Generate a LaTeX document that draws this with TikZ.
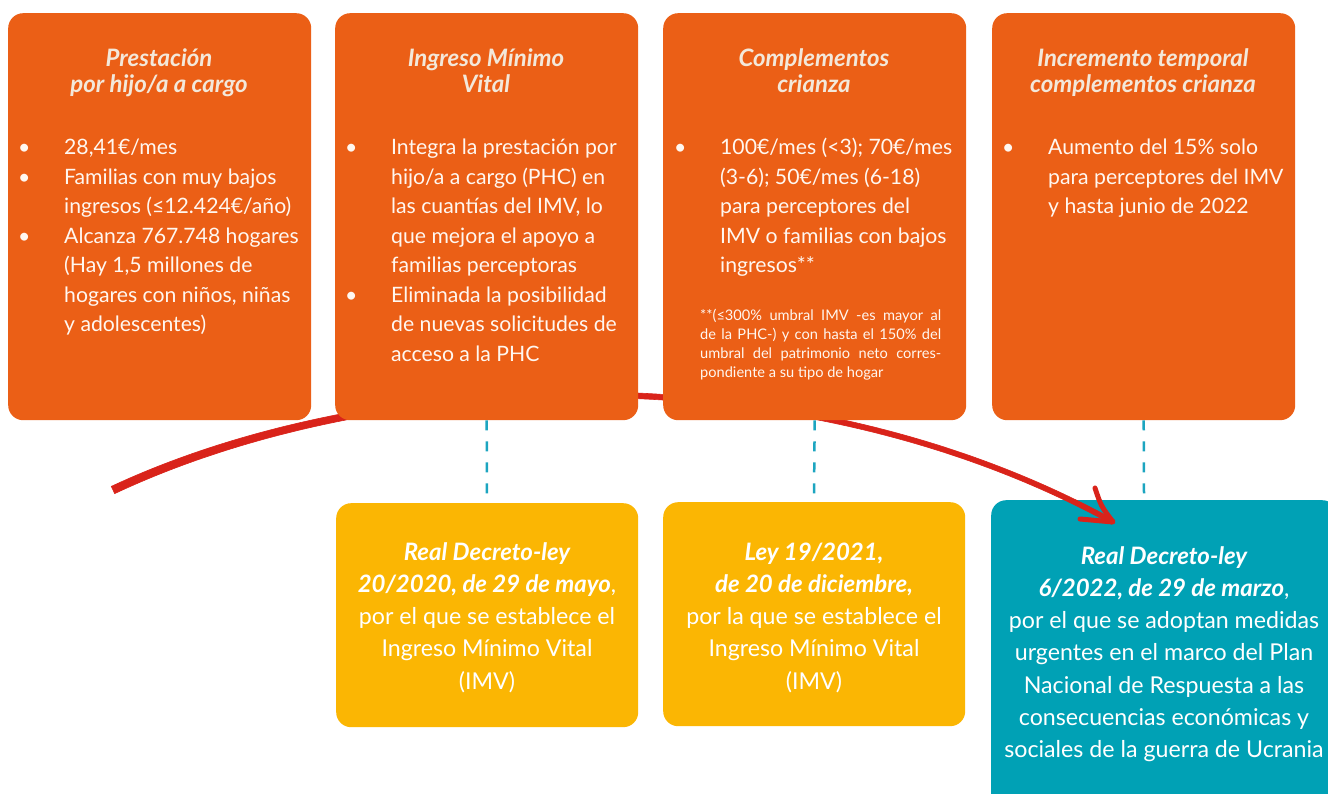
\documentclass[tikz,border=0pt]{standalone}
\usepackage{fontspec}
\setmainfont{Lato}
\definecolor{orgc}{HTML}{EB5F16}
\definecolor{yelc}{HTML}{FBB603}
\definecolor{tealc}{HTML}{00A1B5}
\definecolor{redc}{HTML}{D9231A}
\definecolor{dashc}{HTML}{1CA5C0}
\definecolor{ttlc}{HTML}{F3E8DA}
\definecolor{bodyc}{HTML}{FFF7F0}
\newlength{\bind}
\setlength{\bind}{46pt}
\newcommand{\nl}{\hfil\break}
\newcommand{\bitem}[1]{\par\noindent\hangindent=\bind\hangafter=1\makebox[\bind][l]{•}#1\par}
\newcommand{\jline}[1]{\makebox[241pt][s]{#1}}
\newcommand{\lowbf}{\fontsize{24}{32.3}\selectfont\bfseries\itshape}
\begin{document}
\begin{tikzpicture}[x=1pt,y=-1pt,
  obox/.style={fill=orgc, rounded corners=15pt, minimum width=303pt, minimum height=407pt, anchor=north west, inner sep=0pt},
  ybox/.style={fill=yelc, rounded corners=15pt, minimum width=302pt, minimum height=224pt, anchor=north west, inner sep=0pt},
  tbox/.style={fill=tealc, rounded corners=15pt, minimum width=346pt, minimum height=320pt, anchor=north west, inner sep=0pt},
  ttl/.style={anchor=base, inner sep=0pt, text=ttlc, font=\fontsize{24}{26}\selectfont\bfseries\itshape},
  bdy/.style={anchor=base west, inner sep=0pt, text=bodyc, font=\fontsize{21.2}{29.5}\selectfont},
  low/.style={anchor=base, inner sep=0pt, text=white, font=\fontsize{23.2}{32.3}\selectfont},
  redfill/.style={fill=redc, draw=redc, line width=0.6pt},
  redhead/.style={draw=redc, line width=5pt, line cap=round, line join=round},
  dashline/.style={draw=dashc, line width=2.5pt, dash pattern=on 10pt off 11pt}
]
\useasboundingbox (0,0) rectangle (1328,794);
\clip (0,0) rectangle (1328,794);

% teal box (below the red arrow)
\node[tbox] (tb) at (991,500) {};

% red arrow (tapered stroke)
\coordinate (rsa) at (111.3,486.4);
\coordinate (rsb) at (114.7,493.6);
\coordinate (rta) at (1114.2,519.8);
\coordinate (rtb) at (1111.8,524.2);
\coordinate (rt) at (1113,522);
\coordinate (ha) at (1095,488);
\coordinate (hb) at (1080,519);
\fill[redfill] (rsa) .. controls (378.5,361.7) and (801.4,347.6) .. (rta)
  -- (rtb) .. controls (798.6,352.5) and (381.5,368.3) .. (rsb) -- cycle;
\draw[redhead] (ha) .. controls (1101,506) .. (rt) -- (hb);

% orange boxes
\node[obox] (b1) at (8,13) {};
\node[obox] (b2) at (335,13) {};
\node[obox] (b3) at (663,13) {};
\node[obox] (b4) at (992,13) {};

% yellow boxes
\node[ybox] (ya) at (336,503) {};
\node[ybox] (yb) at (663,502) {};

% dashed connectors
\coordinate (da) at (487,495);
\coordinate (db) at (814,495);
\coordinate (dc) at (1144,495);
\draw[dashline] (b2.south) -- (da);
\draw[dashline] (b3.south) -- (db);
\draw[dashline] (b4.south) -- (dc);

% titles
\node[ttl] (t1) at (159,67) {\begin{minipage}[t]{300pt}\centering Prestación\\por hijo/a a cargo\end{minipage}};
\node[ttl] (t2) at (486,67) {\begin{minipage}[t]{300pt}\centering Ingreso Mínimo\\Vital\end{minipage}};
\node[ttl] (t3) at (814,67) {\begin{minipage}[t]{300pt}\centering Complementos\\crianza\end{minipage}};
\node[ttl] (t4) at (1143,67) {\begin{minipage}[t]{300pt}\centering Incremento temporal\\complementos crianza\end{minipage}};

% bodies
\node[bdy] (p1) at (18,155) {\begin{minipage}[t]{300pt}
\bitem{28,41€/mes}
\bitem{Familias con muy bajos\nl ingresos (≤12.424€/año)}
\bitem{Alcanza 767.748 hogares\nl (Hay 1,5 millones de\nl hogares con niños, niñas\nl y adolescentes)}
\end{minipage}};
\node[bdy] (p2) at (345,155) {\begin{minipage}[t]{300pt}
\bitem{Integra la prestación por\nl hijo/a a cargo (PHC) en\nl las cuantías del IMV, lo\nl que mejora el apoyo a\nl familias perceptoras}
\bitem{Eliminada la posibilidad\nl de nuevas solicitudes de\nl acceso a la PHC}
\end{minipage}};
\node[bdy] (p3) at (674,155) {\begin{minipage}[t]{300pt}
\bitem{100€/mes (<3); 70€/mes\nl (3-6); 50€/mes (6-18)\nl para perceptores del\nl IMV o familias con bajos\nl ingresos**}
\end{minipage}};
\node[bdy] (p4) at (1002,155) {\begin{minipage}[t]{300pt}
\bitem{Aumento del 15\% solo\nl para perceptores del IMV\nl y hasta junio de 2022}
\end{minipage}};

% footnote
\node[anchor=base west, inner sep=0pt, text=bodyc, font=\fontsize{14.6}{19}\selectfont] (fn) at (700,321) {\begin{minipage}[t]{260pt}\raggedright
\jline{**(≤300\% umbral IMV -es mayor al}\\
\jline{de la PHC-) y con hasta el 150\% del}\\
\jline{umbral del patrimonio neto corres-}\\
pondiente a su tipo de hogar
\end{minipage}};

% lower texts
\node[low] (la) at (487,560) {\begin{minipage}[t]{330pt}\centering
{\lowbf Real Decreto-ley\\20/2020, de 29 de mayo}, \\
por el que se establece el\\Ingreso Mínimo Vital\\(IMV)\end{minipage}};
\node[low] (lb) at (814,560) {\begin{minipage}[t]{330pt}\centering
{\lowbf Ley 19/2021,\\de 20 de diciembre,}\\
por la que se establece el\\Ingreso Mínimo Vital\\(IMV)\end{minipage}};
\node[low] (lc) at (1164,564) {\begin{minipage}[t]{370pt}\centering
{\lowbf Real Decreto-ley\\6/2022, de 29 de marzo},\\
por el que se adoptan medidas\\urgentes en el marco del Plan\\Nacional de Respuesta a las\\consecuencias económicas y\\sociales de la guerra de Ucrania\end{minipage}};
\end{tikzpicture}
\end{document}
